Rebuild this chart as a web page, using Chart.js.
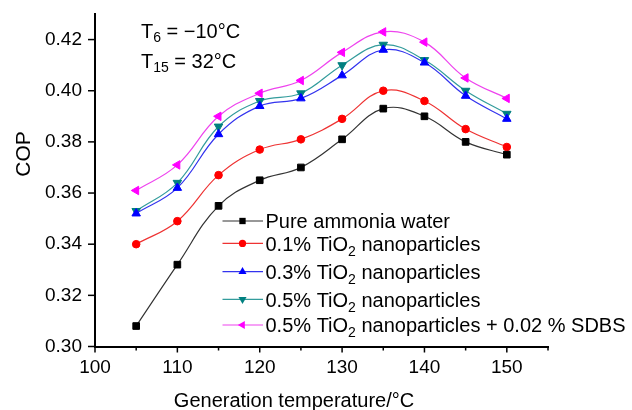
<!DOCTYPE html>
<html><head><meta charset="utf-8">
<script src="https://cdn.jsdelivr.net/npm/chart.js@4.4.0/dist/chart.umd.min.js"></script>
<style>html,body{margin:0;padding:0;background:#fff;} canvas{display:block;}</style>
</head><body>
<canvas id="c" width="632" height="410"></canvas>
<script>
// ---- data ----
const temperatures = [105, 110, 115, 120, 125, 130, 135, 140, 145, 150];
const pureAmmonia  = [0.308, 0.332, 0.355, 0.365, 0.370, 0.381, 0.393, 0.390, 0.380, 0.375];
const tio2_01      = [0.340, 0.349, 0.367, 0.377, 0.381, 0.389, 0.400, 0.396, 0.385, 0.378];
const tio2_03      = [0.352, 0.362, 0.383, 0.394, 0.397, 0.406, 0.416, 0.411, 0.398, 0.389];
const tio2_05      = [0.353, 0.364, 0.386, 0.396, 0.399, 0.410, 0.418, 0.412, 0.400, 0.391];
const tio2_05_sdbs = [0.361, 0.371, 0.390, 0.399, 0.404, 0.415, 0.423, 0.419, 0.405, 0.397];
const seriesLabels = [
  'Pure ammonia water',
  '0.1% TiO_{2} nanoparticles',
  '0.3% TiO_{2} nanoparticles',
  '0.5% TiO_{2} nanoparticles',
  '0.5% TiO_{2} nanoparticles + 0.02 % SDBS'
];
const xTickLabels = [100, 110, 120, 130, 140, 150];
const yTickLabels = ['0.30', '0.32', '0.34', '0.36', '0.38', '0.40', '0.42'];
const annotations = ['T_{6} = \u221210\u00B0C', 'T_{15} = 32\u00B0C'];
const xTitle = 'Generation temperature/\u00B0C';
const yTitle = 'COP';

// ---- styles ----
const FONT = '"Liberation Sans", Arial, Helvetica, sans-serif';
const styles = [
  {color: '#000000', line: '#333333', point: 'rect',     rot: 0,   r: 4.7},
  {color: '#ff0000', line: '#ee3333', point: 'circle',   rot: 0,   r: 3.8},
  {color: '#0000ff', line: '#3333ee', point: 'triangle', rot: 0,   r: 4.9},
  {color: '#008080', line: '#339c9c', point: 'triangle', rot: 180, r: 4.9},
  {color: '#ff00ff', line: '#ee44ee', point: 'triangle', rot: 270, r: 4.9}
];
const seriesValues = [pureAmmonia, tio2_01, tio2_03, tio2_05, tio2_05_sdbs];

const datasets = seriesValues.map((vals, i) => ({
  label: seriesLabels[i].replace(/_\{(.*?)\}/g, '$1'),
  data: temperatures.map((t, j) => ({x: t, y: vals[j]})),
  borderColor: styles[i].line,
  backgroundColor: styles[i].color,
  pointBackgroundColor: styles[i].color,
  pointBorderColor: styles[i].color,
  pointBorderWidth: 1,
  borderWidth: 1.2,
  pointStyle: styles[i].point,
  pointRotation: styles[i].rot,
  pointRadius: styles[i].r,
  tension: 0.4,
  fill: false
}));

// draw text with _{sub} segments
function drawRich(ctx, text, x, y, size, subSize, subDy) {
  const parts = text.split(/(_\{.*?\})/);
  let cx = x;
  parts.forEach(p => {
    if (!p) return;
    const m = p.match(/^_\{(.*)\}$/);
    if (m) {
      ctx.font = subSize + 'px ' + FONT;
      ctx.fillText(m[1], cx, y + subDy);
      cx += ctx.measureText(m[1]).width;
    } else {
      ctx.font = size + 'px ' + FONT;
      ctx.fillText(p, cx, y);
      cx += ctx.measureText(p).width;
    }
  });
}
function marker(ctx, style, x, y, r, rot) {
  ctx.beginPath();
  if (style === 'rect') {
    const s = r * Math.SQRT1_2; ctx.rect(x - s, y - s, 2 * s, 2 * s);
  } else if (style === 'circle') {
    ctx.arc(x, y, r, 0, Math.PI * 2);
  } else {
    let rad = rot * Math.PI / 180;
    ctx.moveTo(x + Math.sin(rad) * r, y - Math.cos(rad) * r);
    rad += 2 * Math.PI / 3;
    ctx.lineTo(x + Math.sin(rad) * r, y - Math.cos(rad) * r);
    rad += 2 * Math.PI / 3;
    ctx.lineTo(x + Math.sin(rad) * r, y - Math.cos(rad) * r);
    ctx.closePath();
  }
  ctx.fill();
}

const decor = {
  id: 'decor',
  afterDraw(chart) {
    const ctx = chart.ctx;
    const xs = chart.scales.x, ys = chart.scales.y;
    ctx.save();
    // tick marks
    ctx.strokeStyle = '#000'; ctx.lineWidth = 1.5;
    xs.ticks.forEach(t => {
      const p = xs.getPixelForValue(t.value);
      const major = xTickLabels.includes(Math.round(t.value));
      ctx.beginPath(); ctx.moveTo(p, xs.top); ctx.lineTo(p, xs.top + (major ? 6 : 4)); ctx.stroke();
    });
    ys.ticks.forEach(t => {
      const p = ys.getPixelForValue(t.value);
      const major = yTickLabels.includes((Math.round(t.value * 100) / 100).toFixed(2));
      ctx.beginPath(); ctx.moveTo(ys.right, p); ctx.lineTo(ys.right - (major ? 7 : 4), p); ctx.stroke();
    });
    // axis titles
    ctx.fillStyle = '#000';
    ctx.textAlign = 'center'; ctx.textBaseline = 'middle';
    ctx.font = '20px ' + FONT;
    ctx.fillText(xTitle, 294, 401);
    ctx.save();
    ctx.translate(24, 154); ctx.rotate(-Math.PI / 2);
    ctx.font = '21px ' + FONT;
    ctx.fillText(yTitle, 0, 0);
    ctx.restore();
    // annotations
    ctx.textAlign = 'left'; ctx.textBaseline = 'alphabetic';
    drawRich(ctx, annotations[0], 141, 38.3, 20, 14, 3.5);
    drawRich(ctx, annotations[1], 141, 68.3, 20, 14, 3.5);
    // legend
    const baselines = [228.3, 250.7, 279, 306.7, 332.3];
    seriesLabels.forEach((lab, i) => {
      const by = baselines[i], cy = by - 7.3;
      ctx.strokeStyle = styles[i].line; ctx.lineWidth = 1.2;
      ctx.beginPath(); ctx.moveTo(222.5, cy); ctx.lineTo(263, cy); ctx.stroke();
      ctx.fillStyle = styles[i].color;
      marker(ctx, styles[i].point, 242.5, cy, styles[i].r * 0.95, styles[i].rot);
      ctx.fillStyle = '#000';
      drawRich(ctx, lab, 265.5, by, 20, 14, 5);
    });
    ctx.restore();
  }
};

new Chart(document.getElementById('c'), {
  type: 'line',
  data: {datasets},
  options: {
    responsive: false,
    animation: false,
    events: [],
    layout: {padding: {top: 14, right: 84, left: 0, bottom: 0}},
    plugins: {legend: {display: false}, tooltip: {enabled: false}, title: {display: false}},
    scales: {
      x: {
        type: 'linear', min: 100, max: 155,
        grid: {display: false, drawTicks: false},
        border: {display: true, color: '#000', width: 2},
        ticks: {
          stepSize: 5, padding: 10, color: '#000',
          font: {family: FONT, size: 19},
          callback: v => xTickLabels.includes(Math.round(v)) ? String(Math.round(v)) : ''
        },
        afterFit: s => { s.height = 63.5; s.paddingLeft = 0; s.paddingRight = 0; }
      },
      y: {
        type: 'linear', min: 0.30, max: 0.43,
        grid: {display: false, drawTicks: false},
        border: {display: true, color: '#000', width: 2},
        ticks: {
          stepSize: 0.01, padding: 13, color: '#000',
          font: {family: FONT, size: 19},
          callback: v => { const s = (Math.round(v * 100) / 100).toFixed(2); return yTickLabels.includes(s) ? s : ''; }
        },
        afterFit: s => { s.width = 95; s.paddingTop = 0; s.paddingBottom = 0; }
      }
    }
  },
  plugins: [decor]
});
</script>
</body></html>
